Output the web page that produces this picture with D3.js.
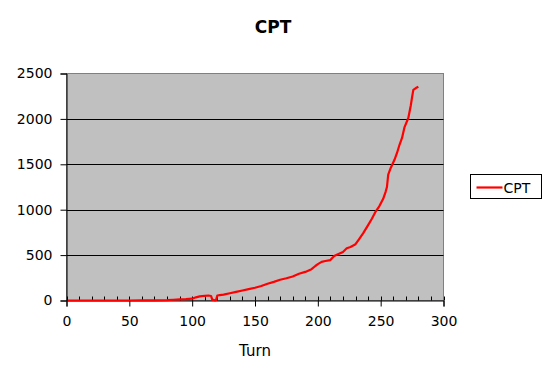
<!DOCTYPE html>
<html>
<head>
<meta charset="utf-8">
<script src="https://cdn.jsdelivr.net/npm/d3@7"></script>
<style>
  body { margin: 0; background: #fff; }
  svg text { font-family: "DejaVu Sans", Verdana, sans-serif; }
</style>
</head>
<body>
<svg id="mainSvg" width="548" height="372"></svg>
<script>
// data
var turns = [1, 10, 20, 30, 40, 50, 60, 70, 80, 85, 90, 95, 100, 103, 106, 110, 113, 115, 116, 118, 119, 120,
  122, 125, 130, 135, 140, 145, 150, 155, 160, 165, 170, 175, 180, 185, 190, 195, 198, 200, 203, 206, 210,
  213, 216, 220, 223, 226, 230, 233, 236, 240, 243, 246, 249, 252, 254, 255, 256, 258, 261, 263, 265, 267,
  269, 272, 274, 275, 276, 278, 280];
var cpt = [0, 0, 0, 0, 0, 0, 1, 2, 4, 8, 12, 15, 20, 35, 45, 52, 55, 50, 10, 2, 5, 55,
  60, 65, 80, 95, 110, 125, 140, 160, 185, 205, 228, 245, 265, 295, 315, 345, 380, 400, 425, 435, 445,
  490, 510, 535, 575, 590, 620, 680, 740, 830, 900, 980, 1040, 1120, 1200, 1250, 1385, 1460, 1550, 1625, 1715, 1790,
  1910, 2010, 2150, 2240, 2320, 2340, 2355];
var xTicks = [0, 50, 100, 150, 200, 250, 300];
var xMinorTicks = d3.range(0, 301, 10);
var yTicks = [0, 500, 1000, 1500, 2000, 2500];
var seriesName = "CPT";

var plot = {left: 66.5, right: 443.5, top: 73.5, bottom: 300.5};

var x = d3.scaleLinear().domain([0, 300]).range([plot.left, plot.right]);
var y = d3.scaleLinear().domain([0, 2500]).range([plot.bottom, plot.top]);

var svg = d3.select("#mainSvg");

// title
svg.append("text")
  .attr("x", 273).attr("y", 33)
  .attr("text-anchor", "middle")
  .style("font-size", "17px").style("font-weight", "bold")
  .text("CPT");

// plot area
svg.append("rect")
  .attr("x", plot.left).attr("y", plot.top)
  .attr("width", plot.right - plot.left).attr("height", plot.bottom - plot.top)
  .attr("fill", "#c0c0c0")
  .attr("stroke", "#808080").attr("stroke-width", 1);

// gridlines
svg.append("g").selectAll("line")
  .data(yTicks.filter(function(d) { return d > 0 && d < 2500; }))
  .enter().append("line")
  .attr("x1", plot.left).attr("x2", plot.right)
  .attr("y1", function(d) { return Math.round(y(d)) + 0.5; })
  .attr("y2", function(d) { return Math.round(y(d)) + 0.5; })
  .attr("stroke", "#000").attr("stroke-width", 1);

// minor x ticks (inside)
svg.append("g").selectAll("line")
  .data(xMinorTicks)
  .enter().append("line")
  .attr("x1", function(d) { return Math.round(x(d)) + 0.5; })
  .attr("x2", function(d) { return Math.round(x(d)) + 0.5; })
  .attr("y1", plot.bottom).attr("y2", plot.bottom - 4)
  .attr("stroke", "#000");

// axes
var xAxis = svg.append("g")
  .attr("transform", "translate(0," + plot.bottom + ")")
  .call(d3.axisBottom(x).tickValues(xTicks).tickSize(6).tickPadding(6).tickFormat(d3.format("d")));
var yAxis = svg.append("g")
  .attr("transform", "translate(" + plot.left + ",0)")
  .call(d3.axisLeft(y).tickValues(yTicks).tickSize(6).tickPadding(8).tickFormat(d3.format("d")));

[xAxis, yAxis].forEach(function(g) {
  g.select(".domain").attr("stroke", "#000");
  g.selectAll(".tick line").attr("stroke", "#000");
  g.selectAll(".tick text")
    .attr("fill", "#000")
    .style("font-family", "DejaVu Sans, Verdana, sans-serif")
    .style("font-size", "14px");
});
xAxis.selectAll(".tick text").attr("dy", "0.95em");

// x axis title
svg.append("text")
  .attr("x", 255).attr("y", 356)
  .attr("text-anchor", "middle")
  .style("font-size", "15px")
  .text("Turn");

// the line
var valueline = d3.line()
  .x(function(d, i) { return x(turns[i]); })
  .y(function(d) { return y(d); });

svg.append("path")
  .attr("d", valueline(cpt))
  .attr("fill", "none")
  .attr("stroke", "#ff0000")
  .attr("stroke-width", 2.2)
  .attr("stroke-linejoin", "round");

// legend
var legend = svg.append("g").attr("transform", "translate(470.5,174.5)");
legend.append("rect")
  .attr("width", 71).attr("height", 24)
  .attr("fill", "#fff").attr("stroke", "#000");
legend.append("line")
  .attr("x1", 6).attr("x2", 32).attr("y1", 13).attr("y2", 13)
  .attr("stroke", "#ff0000").attr("stroke-width", 2.2);
legend.append("text")
  .attr("x", 33).attr("y", 18)
  .style("font-size", "14px")
  .text(seriesName);
</script>
</body>
</html>
